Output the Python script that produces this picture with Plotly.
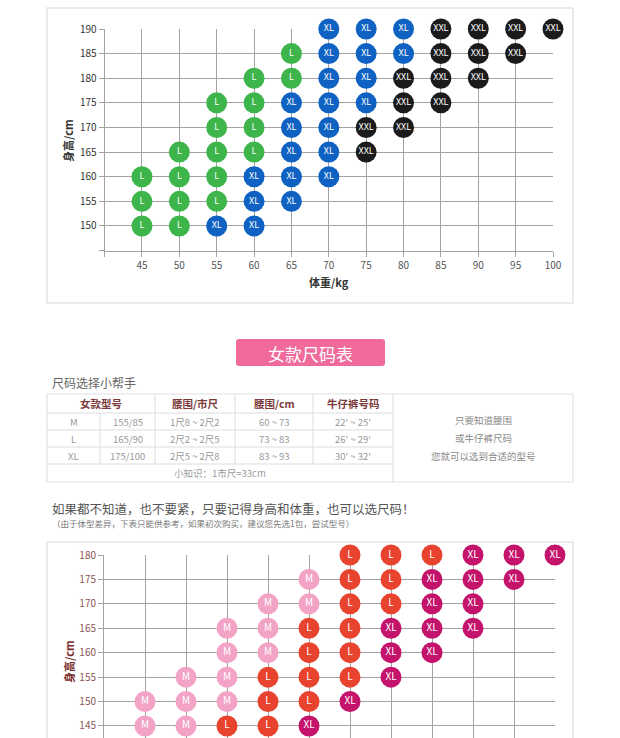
import plotly.graph_objects as go

W, H = 620, 738
FONT = "Noto Sans CJK SC"

# ---------------- data: top chart (weight kg vs height cm) ----------------
top_weights = [45, 50, 55, 60, 65, 70, 75, 80, 85, 90, 95, 100]
top_L = [[150, 155, 160], [150, 155, 160, 165], [155, 160, 165, 170, 175],
         [165, 170, 175, 180], [180, 185], [], [], [], [], [], [], []]
top_XL = [[], [], [150], [150, 155, 160], [155, 160, 165, 170, 175],
          [160, 165, 170, 175, 180, 185, 190], [175, 180, 185, 190], [185, 190],
          [], [], [], []]
top_XXL = [[], [], [], [], [], [], [165, 170], [170, 175, 180],
           [175, 180, 185, 190], [180, 185, 190], [185, 190], [190]]
top_xticks = [40, 45, 50, 55, 60, 65, 70, 75, 80, 85, 90, 95, 100]
top_yticks = [145, 150, 155, 160, 165, 170, 175, 180, 185, 190]

# ---------------- data: bottom chart ----------------
bot_weights = [40, 45, 50, 55, 60, 65, 70, 75, 80, 85, 90]
bot_M = [[145, 150], [145, 150, 155], [150, 155, 160, 165], [160, 165, 170],
         [170, 175], [], [], [], [], [], []]
bot_L = [[], [], [145], [145, 150, 155], [150, 155, 160, 165],
         [155, 160, 165, 170, 175, 180], [170, 175, 180], [180], [], [], []]
bot_XL = [[], [], [], [], [145], [150], [155, 160, 165], [160, 165, 170, 175],
          [165, 170, 175, 180], [175, 180], [180]]
bot_yticks = [145, 150, 155, 160, 165, 170, 175, 180]

# ---------------- data: table ----------------
tbl_headers = ["女款型号", "腰围/市尺", "腰围/cm", "牛仔裤号码"]
tbl_sizes = ["M", "L", "XL"]
tbl_codes = ["155/85", "165/90", "175/100"]
tbl_waist_chi = ["1尺8 ~ 2尺2", "2尺2 ~ 2尺5", "2尺5 ~ 2尺8"]
tbl_waist_cm = ["60 ~ 73", "73 ~ 83", "83 ~ 93"]
tbl_jeans = ["22' ~ 25'", "26' ~ 29'", "30' ~ 32'"]
tbl_note = "小知识：1市尺=33cm"
tbl_side = ["只要知道腰围", "或牛仔裤尺码", "您就可以选到合适的型号"]


def px(x):
    return x / W


def py(y):
    return 1 - y / H


def flatten(weights, groups):
    xs, ys = [], []
    for w, hs in zip(weights, groups):
        for h in hs:
            xs.append(w)
            ys.append(h)
    return xs, ys


fig = go.Figure()


def add_size(weights, groups, label, color, axes, tsize):
    xs, ys = flatten(weights, groups)
    fig.add_trace(go.Scatter(
        x=xs, y=ys, mode="markers+text", text=[label] * len(xs),
        textposition="middle center",
        textfont=dict(color="white", size=tsize, family=FONT),
        marker=dict(size=21, color=color, line=dict(width=0)),
        xaxis=axes[0], yaxis=axes[1], cliponaxis=False, showlegend=False,
        hoverinfo="skip"))


add_size(top_weights, top_L, "L", "#3db54b", ("x", "y"), 9)
add_size(top_weights, top_XL, "XL", "#0f62c2", ("x", "y"), 9)
add_size(top_weights, top_XXL, "XXL", "#1b1b1b", ("x", "y"), 9)

add_size(bot_weights, bot_M, "M", "#f3a3c6", ("x2", "y2"), 10)
add_size(bot_weights, bot_L, "L", "#e8432e", ("x2", "y2"), 10)
add_size(bot_weights, bot_XL, "XL", "#c4136b", ("x2", "y2"), 10)

GRID = "#a3a3a3"

fig.update_layout(
    template="none",
    width=W, height=H, margin=dict(l=0, r=0, t=0, b=0, pad=0, autoexpand=False),
    paper_bgcolor="white", plot_bgcolor="white",
    font=dict(family=FONT),
    xaxis=dict(domain=[px(104.6), px(553)], range=[40, 100], automargin=False,
               tickvals=top_xticks, ticktext=[""] + [str(v) for v in top_xticks[1:]],
               showgrid=True, gridcolor=GRID, gridwidth=1,
               showline=True, linecolor=GRID, ticks="outside", ticklen=5,
               tickcolor=GRID, zeroline=False,
               tickfont=dict(size=10, color="#555555"), anchor="y"),
    yaxis=dict(domain=[py(250.6), py(29)], range=[145, 190], automargin=False,
               tickvals=top_yticks, ticktext=[""] + [str(v) for v in top_yticks[1:]],
               showgrid=True, gridcolor=GRID, gridwidth=1,
               showline=True, linecolor=GRID, ticks="outside", ticklen=5,
               tickcolor=GRID, zeroline=False,
               tickfont=dict(size=10, color="#333333"), anchor="x"),
    xaxis2=dict(domain=[px(104), px(555)], range=[35, 90], automargin=False,
                tickvals=bot_weights, showticklabels=False, ticks="",
                showgrid=True, gridcolor=GRID, gridwidth=1,
                showline=False, zeroline=False, anchor="y2"),
    yaxis2=dict(domain=[0, py(555)], range=[142.54, 180], automargin=False,
                tickvals=bot_yticks,
                showgrid=True, gridcolor=GRID, gridwidth=1,
                showline=True, linecolor=GRID, ticks="outside", ticklen=5,
                tickcolor=GRID, zeroline=False,
                tickfont=dict(size=10, color="#8a5656"), anchor="x2"),
)

shapes = []
ann = []


def rect(x0, y0, x1, y1, color="#e4e4e4", width=1.5, fill=None):
    d = dict(type="rect", xref="paper", yref="paper",
             x0=px(x0), x1=px(x1), y0=py(y1), y1=py(y0),
             line=dict(color=color, width=width), layer="below")
    if fill:
        d["fillcolor"] = fill
    shapes.append(d)


def line(x0, y0, x1, y1, color="#dddddd", width=1):
    shapes.append(dict(type="line", xref="paper", yref="paper",
                       x0=px(x0), x1=px(x1), y0=py(y0), y1=py(y1),
                       line=dict(color=color, width=width)))


def text(x, y, s, size=10, color="#333", xanchor="center", bold=False, angle=0):
    if bold:
        s = "<b>" + s + "</b>"
    ann.append(dict(x=px(x), y=py(y), xref="paper", yref="paper", text=s,
                    showarrow=False, xanchor=xanchor, yanchor="middle",
                    textangle=angle, font=dict(size=size, color=color, family=FONT)))


# panels
rect(47, 8, 573, 303)
rect(47, 542, 573, 760)

# top chart axis titles
text(329, 282, "体重/kg", size=11, color="#333333", bold=True)
text(68, 141, "身高/cm", size=11, color="#333333", bold=True, angle=-90)
# bottom chart y title
text(69, 662, "身高/cm", size=11, color="#7a2b2b", bold=True, angle=-90)

# banner (rounded rectangle)
bx0, by0, bx1, by1, r = px(236), py(366), px(385), py(339), 3
rx, ry = r / W, r / H
path = (f"M {bx0+rx},{by0} L {bx1-rx},{by0} Q {bx1},{by0} {bx1},{by0+ry} "
        f"L {bx1},{by1-ry} Q {bx1},{by1} {bx1-rx},{by1} L {bx0+rx},{by1} "
        f"Q {bx0},{by1} {bx0},{by1-ry} L {bx0},{by0+ry} Q {bx0},{by0} {bx0+rx},{by0} Z")
shapes.append(dict(type="path", path=path, xref="paper", yref="paper",
                   fillcolor="#f06a9c", line=dict(width=0)))
text(310.5, 353, "女款尺码表", size=17, color="white")

text(50, 382, "尺码选择小帮手", size=12, color="#666666", xanchor="left")

# table grid
col_x = [47, 155, 235, 313, 393, 573]
row_y = [394, 413, 430, 447, 464, 482]
rect(47, 394, 573, 482, color="#e2e2e2", width=1.2)
for yy in row_y[1:5]:
    line(47, yy, 393, yy)
for xx in col_x[1:5]:
    line(xx, 394, xx, 464 if xx != 393 else 482)
line(100, 413, 100, 464)

hdr_cx = [101, 195, 274, 353]
for cx, h in zip(hdr_cx, tbl_headers):
    text(cx, 403.5, h, size=10.5, color="#7a3a3a", bold=True)
body_cols = [(73.5, tbl_sizes), (127.5, tbl_codes), (195, tbl_waist_chi),
             (274, tbl_waist_cm), (353, tbl_jeans)]
for i in range(3):
    cy = (row_y[i + 1] + row_y[i + 2]) / 2
    for cx, vals in body_cols:
        text(cx, cy, vals[i], size=9.5, color="#999999")
text(220, 473, tbl_note, size=9.5, color="#999999")
for i, s in enumerate(tbl_side):
    text(483, 420 + i * 18, s, size=9.5, color="#888888")

# hint texts
text(50, 508, "如果都不知道，也不要紧，只要记得身高和体重，也可以选尺码！",
     size=12.5, color="#555555", xanchor="left")
text(50, 523, "（由于体型差异，下表只能供参考，如果初次购买，建议您先选1包，尝试型号）",
     size=8.5, color="#777777", xanchor="left")

fig.update_layout(shapes=shapes, annotations=ann)
fig.write_html("out.html", config={"displayModeBar": False},
               post_script="document.body.style.margin='0';"
                           "document.body.style.overflow='hidden';")
